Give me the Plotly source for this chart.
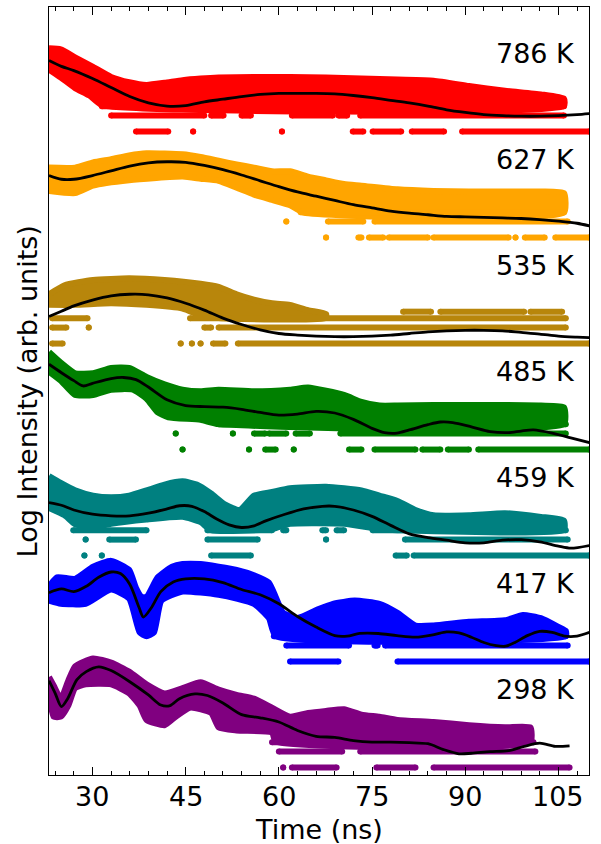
import math
import plotly.graph_objects as go

# Temperatures (top to bottom), colours and vertical offsets in decades
TEMPS = ["786 K", "627 K", "535 K", "485 K", "459 K", "417 K", "298 K"]
COLORS = ["#ff0000", "#ffa500", "#b8860b", "#008000", "#008080", "#0000ff", "#800080"]
OFFSETS = [12, 10, 8, 6, 4, 2, 0]

TICKS = [30, 45, 60, 75, 90, 105]

# ---- fitted curves (time in ns, log10 intensity relative to offset) ----
fit_786_t = [23, 25, 27, 30, 33, 36, 39, 42, 45, 48, 51, 54, 57, 60, 63, 66, 69, 72, 75, 78,
             81, 84, 87, 90, 93, 96, 99, 102, 105, 108, 110]
fit_786 = [1.34, 1.23, 1.15, 1.00, 0.83, 0.66, 0.54, 0.48, 0.49, 0.56, 0.61, 0.66, 0.70, 0.72,
           0.72, 0.72, 0.71, 0.68, 0.64, 0.59, 0.54, 0.48, 0.41, 0.36, 0.32, 0.30, 0.29, 0.29,
           0.30, 0.32, 0.34]

fit_627_t = fit_786_t
fit_627 = [1.17, 1.10, 1.10, 1.17, 1.26, 1.35, 1.41, 1.43, 1.42, 1.36, 1.28, 1.18, 1.07, 0.96,
           0.86, 0.78, 0.70, 0.62, 0.56, 0.50, 0.46, 0.43, 0.40, 0.39, 0.38, 0.37, 0.36, 0.34,
           0.31, 0.27, 0.22]

fit_535_t = fit_786_t
fit_535 = [0.51, 0.61, 0.71, 0.82, 0.90, 0.93, 0.92, 0.86, 0.76, 0.63, 0.48, 0.36, 0.26, 0.19,
           0.16, 0.14, 0.13, 0.13, 0.14, 0.16, 0.19, 0.22, 0.24, 0.25, 0.25, 0.24, 0.21, 0.18,
           0.14, 0.12, 0.11]

fit_485_t = [23, 25, 27, 28.5, 30, 33, 35, 37, 39, 42, 45, 48, 51, 54, 57, 60, 63, 66, 69, 72,
             75, 77, 79, 81, 84, 86, 88, 91, 94, 97, 99, 101, 104, 107, 110]
fit_485 = [1.61, 1.45, 1.30, 1.20, 1.25, 1.34, 1.36, 1.32, 1.18, 0.94, 0.83, 0.81, 0.80, 0.76,
           0.70, 0.65, 0.67, 0.72, 0.69, 0.57, 0.40, 0.32, 0.31, 0.37, 0.47, 0.52, 0.51, 0.43,
           0.34, 0.32, 0.35, 0.37, 0.31, 0.22, 0.13]

fit_459_t = [23, 25, 27, 30, 33, 36, 39, 42, 44, 46, 48, 50, 52, 54, 56, 58, 61, 64, 67, 69,
             72, 75, 78, 81, 84, 87, 90, 93, 96, 99, 102, 105, 107, 110]
fit_459 = [1.00, 0.95, 0.86, 0.78, 0.75, 0.75, 0.80, 0.88, 0.94, 0.93, 0.83, 0.69, 0.58, 0.53,
           0.56, 0.66, 0.78, 0.88, 0.93, 0.93, 0.86, 0.74, 0.57, 0.41, 0.34, 0.29, 0.24, 0.24,
           0.29, 0.30, 0.26, 0.18, 0.14, 0.19]

fit_417_t = [23, 25, 27, 29, 31, 33, 34.5, 36, 37.5, 38.2, 39.5, 41, 43, 45, 48, 51, 54, 57,
             60, 63, 66, 69, 71, 73, 76, 79, 82, 85, 87, 89, 91, 93, 95, 96.5, 98, 100, 102,
             104, 106, 108, 110]
fit_417 = [1.30, 1.37, 1.32, 1.42, 1.59, 1.69, 1.66, 1.46, 1.02, 0.84, 1.02, 1.32, 1.50, 1.56,
           1.56, 1.49, 1.36, 1.26, 1.09, 0.85, 0.65, 0.49, 0.48, 0.53, 0.53, 0.49, 0.46, 0.51,
           0.56, 0.54, 0.46, 0.36, 0.30, 0.29, 0.36, 0.49, 0.57, 0.55, 0.48, 0.48, 0.55]

fit_298_t = [23, 24, 25, 26, 27.5, 29, 31, 33, 36, 39, 41, 42.5, 44, 46.5, 48.5, 51, 54, 57,
             60, 63, 66, 69, 72, 75, 78, 81, 84, 86.5, 89, 91, 94, 97, 99.5, 102, 104.5, 106.8]
fit_298 = [1.64, 1.40, 1.15, 1.30, 1.66, 1.81, 1.90, 1.83, 1.62, 1.37, 1.18, 1.17, 1.30, 1.39,
           1.36, 1.22, 1.00, 0.94, 0.86, 0.70, 0.59, 0.57, 0.51, 0.48, 0.48, 0.47, 0.45, 0.34,
           0.26, 0.27, 0.30, 0.32, 0.40, 0.46, 0.40, 0.41]

# ---- measured data: upper / lower edges of the dense point cloud ----
upper_786_t = [23.0, 24.9, 27.2, 30.1, 33.0, 35.9, 38.7, 41.6, 44.5, 47.4, 50.3, 56.0, 61.8,
               67.6, 73.3, 79.1, 84.9, 90.6, 96.4, 102.2, 105.9]
upper_786 = [1.57, 1.55, 1.40, 1.22, 1.03, 0.93, 0.88, 0.92, 0.97, 1.00, 1.02, 1.03, 1.03,
             1.02, 1.00, 0.98, 0.96, 0.86, 0.77, 0.70, 0.62]
lower_786_t = [23.0, 24.9, 27.2, 29.5, 31.5, 105.9]
lower_786 = [1.17, 1.02, 0.82, 0.68, 0.50, 0.48]

upper_627_t = [23.0, 27.2, 30.1, 33.0, 35.9, 38.7, 44.5, 47.4, 50.3, 53.2, 56.0, 58.9, 61.8,
               64.7, 67.6, 70.5, 73.3, 79.1, 84.9, 90.6, 96.4, 102.2, 105.9]
upper_627 = [1.32, 1.32, 1.42, 1.48, 1.55, 1.59, 1.57, 1.52, 1.45, 1.38, 1.32, 1.25, 1.25,
             1.15, 1.08, 1.01, 0.98, 0.91, 0.88, 0.87, 0.87, 0.87, 0.84]
lower_627_t = [23.0, 27.2, 30.1, 35.9, 44.5, 47.4, 50.3, 53.2, 56.0, 58.9, 61.8, 64.0, 105.9]
lower_627 = [0.88, 0.84, 0.98, 1.08, 1.15, 1.11, 1.07, 0.94, 0.81, 0.71, 0.61, 0.47, 0.47]

upper_535_t = [23.0, 25.5, 30.1, 35.9, 41.6, 47.4, 50.3, 53.2, 56.0, 58.9, 61.8, 64.7, 67.6]
upper_535 = [0.93, 1.10, 1.20, 1.23, 1.20, 1.13, 1.07, 0.93, 0.83, 0.76, 0.73, 0.63, 0.56]
lower_535_t = [23.0, 27.2, 33.0, 38.7, 44.5, 47.4, 50.3, 67.6]
lower_535 = [0.73, 0.73, 0.76, 0.73, 0.66, 0.53, 0.48, 0.48]

upper_485_t = [23.0, 24.9, 27.2, 30.1, 33.0, 35.9, 38.7, 41.6, 44.5, 47.4, 50.3, 56.0, 61.8,
               64.7, 70.5, 73.3, 76.2, 79.1, 84.9, 90.6, 96.4, 102.2, 105.9]
upper_485 = [1.84, 1.64, 1.44, 1.44, 1.54, 1.54, 1.37, 1.23, 1.13, 1.10, 1.13, 1.10, 1.13,
             1.17, 1.03, 0.90, 0.83, 0.83, 0.84, 0.84, 0.84, 0.83, 0.80]
lower_485_t = [23.0, 24.9, 27.2, 30.1, 33.0, 36.5, 38.7, 40.5, 42.2, 47.4, 50.3, 105.9]
lower_485 = [1.47, 1.30, 1.03, 1.03, 1.13, 1.13, 0.96, 0.70, 0.61, 0.56, 0.48, 0.48]

upper_459_t = [23.0, 24.9, 27.2, 30.1, 33.0, 35.9, 38.7, 41.6, 44.5, 46.8, 49.1, 51.4, 53.7,
               56.0, 58.9, 61.8, 67.6, 73.3, 76.2, 79.1, 82.0, 84.9, 90.6, 96.4, 102.2, 105.9]
upper_459 = [1.50, 1.37, 1.23, 1.13, 1.10, 1.13, 1.23, 1.34, 1.40, 1.34, 1.17, 0.96, 0.86,
             1.13, 1.20, 1.27, 1.30, 1.23, 1.13, 1.03, 0.86, 0.76, 0.76, 0.80, 0.73, 0.66]
lower_459_t = [23.0, 25.5, 27.2, 30.1, 33.0, 38.7, 44.5, 47.4, 49.1, 58.9, 61.8, 70.5, 76.2,
               79.1, 105.9]
lower_459 = [0.90, 0.76, 0.59, 0.53, 0.60, 0.68, 0.73, 0.63, 0.48, 0.50, 0.60, 0.60, 0.50,
             0.48, 0.48]

upper_417_t = [23.0, 24.3, 27.2, 30.1, 33.0, 35.9, 37.0, 37.9, 38.7, 40.5, 42.8, 44.5, 47.4,
               50.3, 53.2, 56.0, 58.4, 59.5, 60.7, 63.0, 66.4, 68.7, 72.2, 76.2, 79.1, 82.0,
               84.9, 90.6, 96.4, 99.3, 102.2, 105.1, 106.2]
upper_417 = [1.42, 1.59, 1.56, 1.79, 1.90, 1.73, 1.39, 1.22, 1.22, 1.59, 1.79, 1.84, 1.84,
             1.79, 1.73, 1.63, 1.49, 1.22, 0.92, 0.82, 0.99, 1.09, 1.15, 1.09, 0.92, 0.68,
             0.68, 0.75, 0.78, 0.88, 0.82, 0.65, 0.58]
lower_417_t = [23.0, 24.9, 28.9, 33.0, 35.9, 37.6, 38.7, 39.9, 41.1, 44.5, 50.3, 53.2, 56.0,
               58.4, 59.5, 106.2]
lower_417 = [1.15, 1.09, 1.09, 1.36, 1.19, 0.55, 0.48, 0.55, 1.15, 1.32, 1.26, 1.19, 1.09,
             0.82, 0.48, 0.48]

upper_298_t = [23.0, 23.75, 24.9, 26.1, 27.2, 30.1, 33.0, 35.9, 38.7, 41.6, 44.5, 47.4, 50.3,
               53.2, 56.0, 58.9, 61.8, 64.7, 67.6, 70.5, 73.3, 76.2, 79.1, 84.9, 90.6, 96.4,
               100.5]
upper_298 = [1.71, 1.55, 1.30, 1.64, 1.91, 2.06, 1.98, 1.81, 1.57, 1.40, 1.50, 1.61, 1.47,
             1.37, 1.30, 1.13, 0.96, 1.03, 1.07, 1.10, 1.00, 0.96, 0.90, 0.86, 0.80, 0.76,
             0.76]
lower_298_t = [23.0, 23.75, 24.9, 26.1, 27.2, 28.9, 33.0, 35.9, 37.6, 38.7, 41.6, 43.4, 45.7,
               49.1, 50.3, 53.2, 58.9, 59.5, 100.5]
lower_298 = [1.37, 0.96, 0.96, 1.17, 1.50, 1.57, 1.57, 1.40, 1.17, 0.90, 0.80, 0.96, 1.13,
             1.03, 0.76, 0.70, 0.66, 0.49, 0.48]

# ---- low-count rows: (counts, t_start, t_end) ----
rows_786 = [(3, 31.5, 105.9), (2, 33.0, 48.0), (2, 49.1, 51.1), (2, 54.0, 55.5), (2, 62.1, 68.7),
            (2, 69.6, 71.0), (2, 73.1, 105.9), (1, 37.0, 42.2), (1, 46.2, 46.2), (1, 60.5, 60.5),
            (1, 71.9, 73.6), (1, 75.1, 79.7), (1, 81.4, 86.6), (1, 89.5, 110.0)]
rows_627 = [(3, 63.5, 66.1), (3, 67.3, 105.9), (2, 61.2, 61.2), (2, 67.9, 73.6), (2, 75.4, 106.5),
            (1, 67.6, 67.6), (1, 72.8, 73.3), (1, 74.5, 76.8), (1, 77.7, 84.0), (1, 84.9, 97.0),
            (1, 98.1, 98.1), (1, 99.6, 102.8), (1, 104.5, 110.0)]
rows_535 = [(4, 80.0, 84.5), (4, 86.0, 99.5), (4, 100.5, 105.6), (3, 23.5, 29.2), (3, 45.7, 106.2),
            (2, 23.5, 25.8), (2, 29.4, 29.4), (2, 48.0, 49.1), (2, 50.3, 106.2), (1, 23.5, 25.2),
            (1, 44.2, 44.2), (1, 46.0, 46.0), (1, 47.4, 47.4), (1, 49.4, 51.4), (1, 53.4, 110.0)]
rows_485 = [(3, 50.3, 53.7), (3, 54.3, 61.8), (3, 63.0, 106.2), (2, 43.4, 43.4), (2, 52.6, 52.6),
            (2, 56.0, 57.8), (2, 58.4, 61.2), (2, 62.7, 65.0), (2, 69.9, 106.2), (1, 44.5, 44.5),
            (1, 55.2, 55.2), (1, 57.8, 59.5), (1, 62.4, 62.4), (1, 71.3, 73.3), (1, 75.4, 82.0),
            (1, 83.1, 86.0), (1, 87.2, 90.6), (1, 92.1, 110.0)]
rows_459 = [(3, 26.9, 38.7), (3, 48.5, 58.9), (3, 60.7, 61.2), (3, 67.0, 67.6), (3, 69.3, 70.5),
            (3, 75.1, 106.2), (2, 28.9, 28.9), (2, 32.7, 37.0), (2, 48.5, 56.6), (2, 67.6, 67.6),
            (2, 80.3, 106.5), (1, 28.7, 28.7), (1, 31.5, 31.5), (1, 49.1, 55.5), (1, 78.8, 80.6),
            (1, 81.7, 110.0)]
rows_417 = [(3, 59.2, 106.2), (2, 61.2, 71.3), (2, 75.4, 75.9), (2, 77.1, 106.5),
            (1, 61.8, 69.6), (1, 79.1, 110.0)]
rows_298 = [(3, 58.9, 101.0), (2, 60.0, 70.2), (2, 73.1, 101.3), (1, 60.7, 60.7),
            (1, 62.1, 69.3), (1, 75.7, 82.0), (1, 84.9, 106.8)]

CURVES = [
    (fit_786_t, fit_786, upper_786_t, upper_786, lower_786_t, lower_786, rows_786),
    (fit_627_t, fit_627, upper_627_t, upper_627, lower_627_t, lower_627, rows_627),
    (fit_535_t, fit_535, upper_535_t, upper_535, lower_535_t, lower_535, rows_535),
    (fit_485_t, fit_485, upper_485_t, upper_485, lower_485_t, lower_485, rows_485),
    (fit_459_t, fit_459, upper_459_t, upper_459, lower_459_t, lower_459, rows_459),
    (fit_417_t, fit_417, upper_417_t, upper_417, lower_417_t, lower_417, rows_417),
    (fit_298_t, fit_298, upper_298_t, upper_298, lower_298_t, lower_298, rows_298),
]

LABEL_X = 108.0
LABEL_DY = 1.48
FONT = "DejaVu Sans"
FS = 27

fig = go.Figure()
annotations = []

for (ft, fy, ut, uy, lt, ly, rows), label, col, off in zip(CURVES, TEMPS, COLORS, OFFSETS):
    # dense part of the measured spectrum
    bx = list(ut) + list(lt)[::-1]
    by = [v + off for v in uy] + [v + off for v in ly][::-1]
    fig.add_trace(go.Scatter(
        x=bx, y=by, mode="lines", fill="toself", fillcolor=col,
        line=dict(color=col, width=6, shape="spline", smoothing=0.5),
        hoverinfo="skip", showlegend=False))

    # sparse single/double/triple-count rows
    rx, ry = [], []
    for n, a, b in rows:
        level = off + math.log10(n)
        rx += [a, b, None]
        ry += [level, level, None]
    fig.add_trace(go.Scatter(
        x=rx, y=ry, mode="lines+markers",
        line=dict(color=col, width=6), marker=dict(color=col, size=6),
        hoverinfo="skip", showlegend=False))

    # fit
    fig.add_trace(go.Scatter(
        x=ft, y=[v + off for v in fy], mode="lines",
        line=dict(color="black", width=2.8, shape="spline", smoothing=0.8),
        hoverinfo="skip", showlegend=False))

    annotations.append(dict(
        x=LABEL_X, y=off + LABEL_DY, xref="x", yref="y", text=label,
        showarrow=False, xanchor="right", yanchor="middle",
        font=dict(family=FONT, size=FS, color="black")))

# x tick labels placed just under the axis
for t in TICKS:
    annotations.append(dict(
        x=t, y=-0.0286, xref="x", yref="paper", text=str(t),
        showarrow=False, xanchor="center", yanchor="middle",
        font=dict(family=FONT, size=FS, color="black")))

annotations.append(dict(
    x=-0.04, y=0.5, xref="paper", yref="paper", text="Log Intensity (arb. units)",
    textangle=-90, showarrow=False, xanchor="center", yanchor="middle",
    font=dict(family=FONT, size=FS, color="black")))
annotations.append(dict(
    x=0.5, y=-0.0705, xref="paper", yref="paper", text="Time (ns)",
    showarrow=False, xanchor="center", yanchor="middle",
    font=dict(family=FONT, size=FS, color="black")))

fig.update_layout(
    width=601, height=844,
    margin=dict(l=49, r=12, t=7, b=69),
    paper_bgcolor="white", plot_bgcolor="white",
    font=dict(family=FONT, size=FS, color="black"),
    annotations=annotations,
    showlegend=False,
)
fig.update_xaxes(
    range=[23.0, 109.93], tickmode="array", tickvals=TICKS,
    showticklabels=False,
    ticks="inside", ticklen=8, tickwidth=1.3, tickcolor="black",
    minor=dict(ticks="inside", ticklen=4, tickwidth=1.1, dtick=3, tick0=0, tickcolor="black"),
    showline=True, linecolor="black", linewidth=1.3, mirror="ticks",
    showgrid=False, zeroline=False,
)
fig.update_yaxes(
    range=[-0.14, 14.35], showticklabels=False, ticks="",
    showline=True, linecolor="black", linewidth=1.3, mirror=True,
    showgrid=False, zeroline=False,
)

fig.write_html("out.html")
